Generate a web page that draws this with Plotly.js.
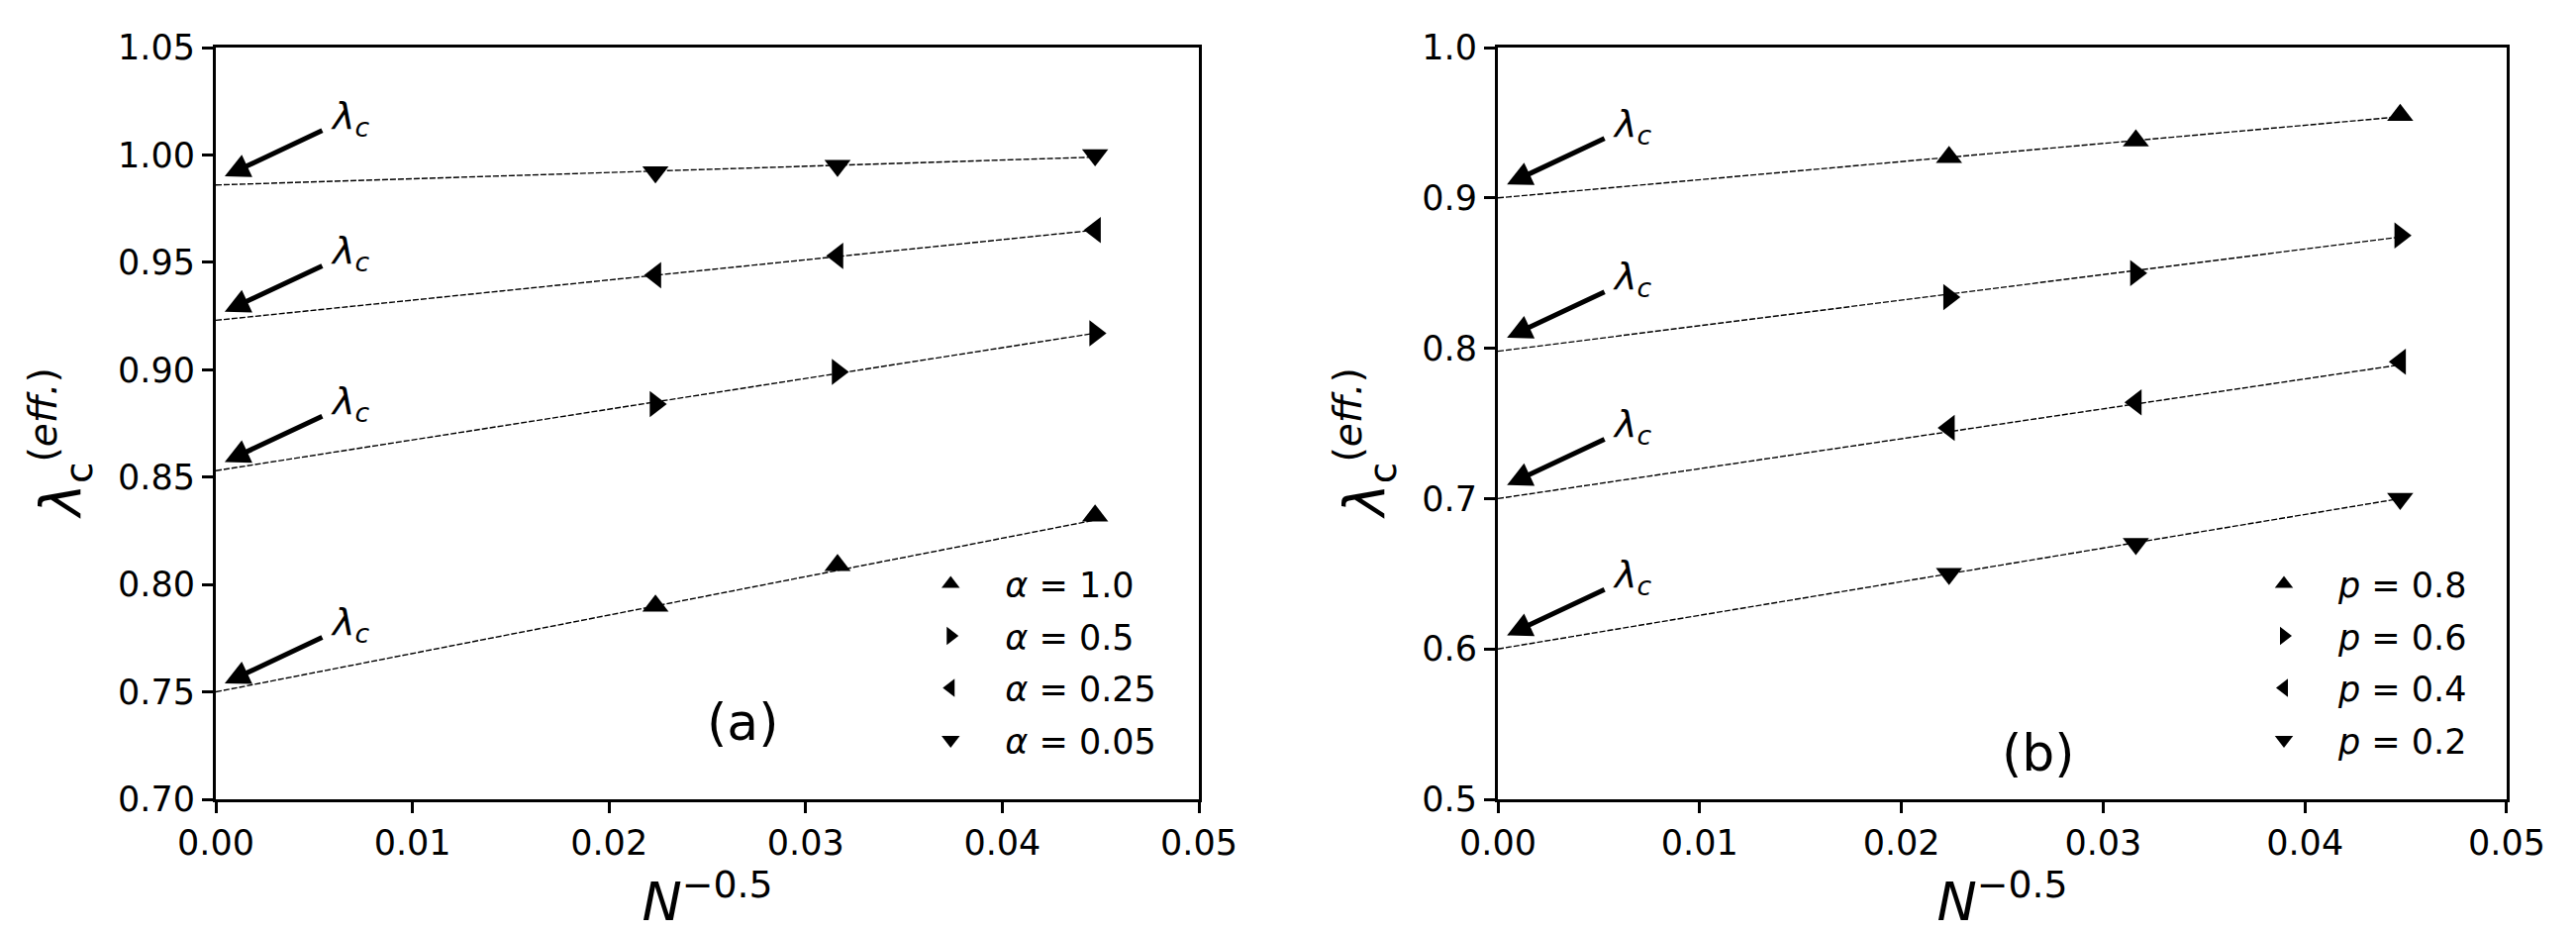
<!DOCTYPE html>
<html>
<head>
<meta charset="utf-8">
<script src="https://cdn.plot.ly/plotly-3.0.1.min.js"></script>
<style>
  body { margin: 0; background: #fff; }
  #chart { width: 2602px; height: 942px; }
</style>
</head>
<body>
<div id="chart"></div>
<script>
// x positions: N^-0.5 for N = 2000, 1000, 500
var xN = [0.02236, 0.03162, 0.04472];
var xFit = [0, 0.04472];

// panel (a)
var alphaNames = ["<i>α</i> = 1.0", "<i>α</i> = 0.5", "<i>α</i> = 0.25", "<i>α</i> = 0.05"];
var alpha10 = [0.790, 0.809, 0.832];
var alpha05 = [0.884, 0.899, 0.917];
var alpha025 = [0.944, 0.953, 0.965];
var alpha005 = [0.992, 0.995, 1.000];
var lambdaA = [0.750, 0.853, 0.923, 0.986];
var fitEndA = [0.830, 0.917, 0.965, 0.999];

// panel (b)
var pNames = ["<i>p</i> = 0.8", "<i>p</i> = 0.6", "<i>p</i> = 0.4", "<i>p</i> = 0.2"];
var p08 = [0.927, 0.938, 0.955];
var p06 = [0.834, 0.850, 0.875];
var p04 = [0.747, 0.764, 0.791];
var p02 = [0.650, 0.670, 0.700];
var lambdaB = [0.900, 0.798, 0.700, 0.600];
var fitEndB = [0.954, 0.874, 0.789, 0.700];

var symbols = ["triangle-up", "triangle-right", "triangle-left", "triangle-down"];
var seriesA = [alpha10, alpha05, alpha025, alpha005];
var seriesB = [p08, p06, p04, p02];

var data = [];

function addPanel(series, names, lambdas, ends, xa, ya, leg) {
  for (var i = 0; i < series.length; i++) {
    data.push({
      x: xFit, y: [lambdas[i], ends[i]],
      xaxis: xa, yaxis: ya,
      mode: "lines", showlegend: false, hoverinfo: "skip",
      line: { color: "black", width: 1.4, dash: "6px,2px" }
    });
  }
  for (var j = 0; j < series.length; j++) {
    data.push({
      x: xN, y: series[j],
      xaxis: xa, yaxis: ya,
      mode: "markers", name: names[j],
      legend: leg, legendgroup: leg + j,
      marker: { symbol: symbols[j], size: 23, color: "black" }
    });
  }
}
addPanel(seriesA, alphaNames, lambdaA, fitEndA, "x", "y", "legend");
addPanel(seriesB, pNames, lambdaB, fitEndB, "x2", "y2", "legend2");

var annotations = [];
function addArrows(lambdas, dy, xr, yr) {
  lambdas.forEach(function (v) {
    // arrow from tail to tip
    annotations.push({
      x: 0.00045, y: v + dy, xref: xr, yref: yr,
      text: " ", font: { size: 1 },
      showarrow: true, arrowhead: 2, arrowsize: 1.0, arrowwidth: 5,
      arrowcolor: "black", ax: 100, ay: -47, standoff: 0
    });
    // label
    annotations.push({
      x: 0.00045, y: v + dy, xref: xr, yref: yr,
      text: "<i>λ</i><sub><i>c</i></sub>",
      font: { family: "DejaVu Sans", size: 38, color: "black" },
      showarrow: true, arrowwidth: 0.1, arrowcolor: "rgba(0,0,0,0)",
      ax: 127, ay: -59
    });
  });
}
addArrows(lambdaA, 0.004, "x", "y");
addArrows(lambdaB, 0.009, "x2", "y2");

annotations.push({ x: 0.0268, y: 0.736, xref: "x", yref: "y", text: "(a)", showarrow: false,
  font: { family: "DejaVu Sans", size: 52, color: "black" } });
annotations.push({ x: 0.0268, y: 0.531, xref: "x2", yref: "y2", text: "(b)", showarrow: false,
  font: { family: "DejaVu Sans", size: 52, color: "black" } });

function xAxis(domain, anchor) {
  return {
    domain: domain, anchor: anchor, range: [0, 0.05], dtick: 0.01, tickformat: ".2f",
    showgrid: false, zeroline: false, showline: true, mirror: true,
    linecolor: "black", linewidth: 3, ticks: "outside", ticklen: 11, tickwidth: 3,
    tickcolor: "black", tickfont: { size: 35 },
    title: { text: "<i>N</i><sup>−0.5</sup>", font: { size: 54 }, standoff: 6 }
  };
}
function yAxis(range, dtick, fmt, anchor) {
  return {
    domain: [0, 1], anchor: anchor, range: range, dtick: dtick, tickformat: fmt,
    showgrid: false, zeroline: false, showline: true, mirror: true,
    linecolor: "black", linewidth: 3, ticks: "outside", ticklen: 11, tickwidth: 3,
    tickcolor: "black", tickfont: { size: 35 },
    title: { text: "<i>λ</i><sub>c</sub><sup>(<i>eff.</i>)&nbsp;&nbsp;&nbsp;</sup>", font: { size: 56 }, standoff: 20 }
  };
}

var legendStyle = function (x) {
  return {
    x: x, y: 0.325, xanchor: "left", yanchor: "top",
    bgcolor: "rgba(0,0,0,0)", borderwidth: 0,
    font: { family: "DejaVu Sans", size: 35, color: "black" },
    itemwidth: 100, tracegroupgap: 4
  };
};

var layout = {
  width: 2602, height: 942,
  margin: { l: 218, r: 70, t: 48, b: 135 },
  paper_bgcolor: "white", plot_bgcolor: "white",
  font: { family: "DejaVu Sans", color: "black" },
  xaxis: xAxis([0, 0.42913], "y"),
  yaxis: yAxis([0.70, 1.05], 0.05, ".2f", "x"),
  xaxis2: xAxis([0.55964, 1.0], "y2"),
  yaxis2: yAxis([0.5, 1.0], 0.1, ".1f", "x2"),
  showlegend: true,
  legend: legendStyle(0.297),
  legend2: legendStyle(0.879),
  annotations: annotations
};

Plotly.newPlot("chart", data, layout, { displayModeBar: false, staticPlot: true });
</script>
</body>
</html>
